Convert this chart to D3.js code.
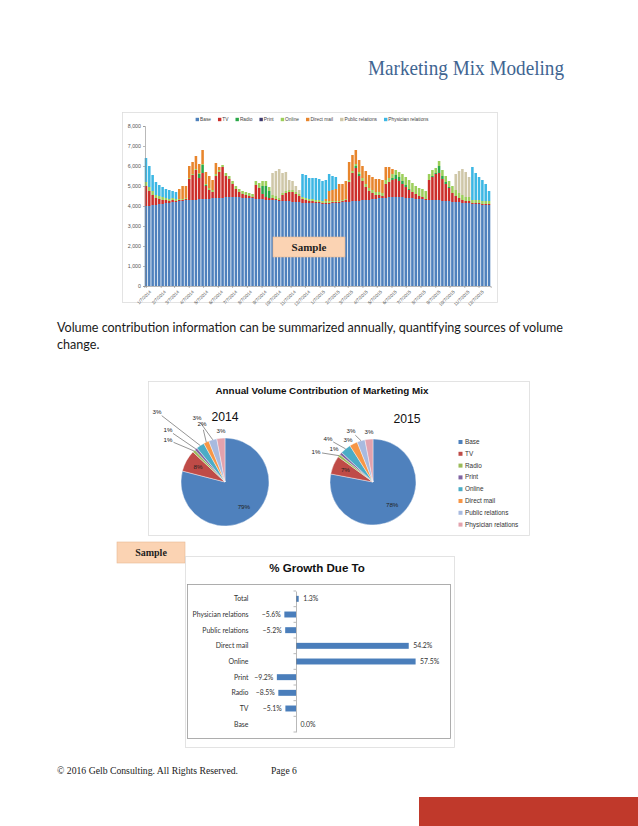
<!DOCTYPE html>
<html><head><meta charset="utf-8">
<script src="https://cdn.jsdelivr.net/npm/d3@7"></script>
<style>body{margin:0;background:#fff}svg{display:block}</style>
</head><body>
<svg id="page" width="638" height="826"></svg>
<script>
// ---------------- DATA ----------------
const seriesNames = ["Base","TV","Radio","Print","Online","Direct mail","Public relations","Physician relations"];
const firstWeek = "1/7/2014";
const base = [4000,4000,4050,4050,4100,4100,4150,4150,4200,4200,
  4250,4250,4300,4300,4300,4300,4350,4350,4350,4350,
  4400,4400,4400,4400,4450,4450,4450,4450,4450,4400,
  4400,4400,4400,4350,4350,4350,4300,4300,4300,4300,
  4250,4250,4250,4250,4200,4200,4200,4150,4150,4150,
  4150,4150,4150,4100,4100,4100,4150,4150,4150,4200,
  4200,4200,4250,4250,4250,4300,4300,4300,4350,4350,
  4400,4400,4400,4450,4450,4450,4450,4450,4400,4400,
  4400,4350,4350,4350,4300,4300,4300,4300,4300,4250,
  4250,4250,4200,4200,4200,4150,4150,4150,4100,4100,
  4100,4050,4050,4050];
const tv = [1000,750,500,350,250,200,150,100,100,50,
  50,50,50,1050,1250,1500,1050,1300,650,450,
  300,1100,1300,1550,1050,900,650,400,250,200,
  150,100,50,700,550,250,150,100,100,50,
  50,300,400,450,500,400,300,200,150,100,
  100,50,50,50,50,50,50,50,50,50,
  100,1000,1400,1650,1250,950,650,450,300,200,
  150,100,700,750,850,900,800,650,550,400,
  300,250,150,100,50,1000,1150,1300,1350,1100,
  850,650,450,300,200,150,100,100,50,50,
  50,50,50,50];
const radio = [0,0,0,0,0,0,0,0,0,0,
  0,0,0,0,0,0,200,400,50,0,
  0,0,0,0,0,0,0,0,0,0,
  0,0,0,0,0,400,550,350,0,0,
  0,0,0,0,0,0,0,0,0,0,
  0,0,0,0,0,0,0,0,0,0,
  0,0,0,100,100,0,0,0,0,0,
  0,0,0,0,100,200,200,150,100,50,
  0,0,0,0,0,0,50,50,350,150,
  100,50,0,0,0,0,0,0,0,0,
  0,0,0,0];
const print = [0,0,0,0,0,0,0,0,0,0,
  0,0,0,0,0,0,0,0,0,0,
  0,0,0,0,0,0,0,0,0,0,
  0,0,0,0,0,0,0,0,0,0,
  0,0,0,0,0,0,0,0,0,0,
  0,0,0,0,0,0,0,0,0,0,
  0,0,0,0,0,0,0,0,0,0,
  0,0,0,0,0,0,0,0,0,0,
  0,0,0,0,0,0,0,0,0,0,
  0,0,0,0,0,0,0,0,0,0,
  0,0,0,0];
const online = [200,200,200,150,150,150,100,100,100,100,
  50,50,50,50,50,50,50,50,50,100,
  100,100,100,100,150,150,150,150,150,150,
  150,150,150,200,250,250,250,200,150,150,
  100,100,100,100,100,100,100,100,100,100,
  100,100,100,100,100,100,50,50,50,50,
  50,100,100,100,100,150,150,150,150,150,
  150,150,200,200,200,250,250,350,400,450,
  450,400,400,400,400,300,300,250,250,300,
  300,300,350,300,250,250,200,200,150,150,
  150,150,150,150];
const directMail = [0,0,0,0,0,0,0,0,0,0,
  500,650,600,600,600,650,450,700,600,600,
  500,550,150,0,0,0,0,0,0,0,
  0,0,0,0,0,0,0,0,0,0,
  0,0,0,0,0,0,0,0,0,0,
  0,0,0,0,100,500,550,600,850,800,
  900,900,800,700,600,600,650,650,650,650,
  650,650,650,550,250,0,0,0,0,0,
  0,0,0,0,0,0,0,0,0,0,
  0,0,0,0,0,0,0,0,0,0,
  0,0,0,0];
const publicRelations = [0,0,0,0,0,0,0,0,0,0,
  0,0,0,0,0,0,0,0,0,0,
  0,0,0,0,0,0,0,0,0,0,
  0,0,0,0,0,0,0,0,1100,1250,
  1450,1000,950,500,450,300,200,0,0,0,
  0,0,0,0,0,0,0,0,0,0,
  0,0,0,0,0,0,0,0,0,0,
  0,0,0,0,0,0,0,0,0,0,
  0,0,0,0,0,0,0,0,0,0,
  0,0,0,800,1100,1300,1250,1000,0,0,
  0,0,0,0];
const physicianRelations = [1200,1050,800,650,550,500,450,450,350,350,
  0,0,0,0,0,0,0,0,0,0,
  0,0,0,0,0,0,0,0,0,0,
  0,0,0,0,0,0,0,0,0,0,
  0,0,0,0,0,0,0,1150,1150,1050,
  1050,1100,1050,1000,950,850,700,600,0,0,
  0,0,0,0,0,0,0,0,0,0,
  0,0,0,0,0,0,0,0,0,0,
  0,0,0,0,0,0,0,0,0,0,
  0,0,0,0,0,0,0,0,1650,1350,
  1150,1050,850,500];
const yTickValues = [0,1000,2000,3000,4000,5000,6000,7000,8000];
const xTickLabels = ["1/7/2014","2/7/2014","3/7/2014","4/7/2014","5/7/2014","6/7/2014","7/7/2014","8/7/2014","9/7/2014","10/7/2014","11/7/2014","12/7/2014",
  "1/7/2015","2/7/2015","3/7/2015","4/7/2015","5/7/2015","6/7/2015","7/7/2015","8/7/2015","9/7/2015","10/7/2015","11/7/2015","12/7/2015"];

const pieYears = ["2014","2015"];
const pie2014 = [79,8,1,1,3,2,3,3];
const pie2015 = [78,7,1,1,4,3,3,3];

const growthCategories = ["Total","Physician relations","Public relations","Direct mail","Online","Print","Radio","TV","Base"];
const growthValues = [1.3,-5.6,-5.2,54.2,57.5,-9.2,-8.5,-5.1,0.0];

// ---------------- STYLE ----------------
const stackColors = ["#4f81bd","#cc2e2a","#2aa84a","#3d3a6e","#9ccf5a","#e8852c","#cfc7a8","#3cb7e4"];
const pieColors = ["#4f81bd","#bf4b47","#9bbb59","#8064a2","#4bacc6","#f79646","#a8badf","#e3a2ad"];

const svg = d3.select("#page");

// header
svg.append("text").attr("x",368).attr("y",75)
  .attr("font-family","Liberation Serif").attr("font-size",21).attr("fill","#3f6592")
  .attr("textLength",196).attr("lengthAdjust","spacingAndGlyphs").text("Marketing Mix Modeling");

// ---------------- STACKED CHART ----------------
svg.append("rect").attr("x",122.5).attr("y",112.5).attr("width",375).attr("height",190)
  .attr("fill","none").attr("stroke","#dcdcdc").attr("stroke-width",0.8);

const parse = d3.timeParse("%m/%d/%Y");
const week0 = parse(firstWeek);
const weeks = base.map((_, i) => d3.timeDay.offset(week0, 7 * i));
const rows = weeks.map((w, i) => ({
  date: w, "Base": base[i], "TV": tv[i], "Radio": radio[i], "Print": print[i], "Online": online[i],
  "Direct mail": directMail[i], "Public relations": publicRelations[i], "Physician relations": physicianRelations[i]
}));
const x = d3.scaleTime()
  .domain([d3.timeHour.offset(weeks[0], -84), d3.timeHour.offset(weeks[weeks.length-1], 84)])
  .range([144.3, 490.7]);
const y = d3.scaleLinear().domain([0, 8000]).range([286, 126]);
const step = x(weeks[1]) - x(weeks[0]);
const bw = step * 0.76;
const stacked = d3.stack().keys(seriesNames)(rows);

const gBars = svg.append("g");
stacked.forEach((s, k) => {
  gBars.append("g").attr("fill", stackColors[k]).selectAll("rect").data(s).join("rect")
    .attr("x", d => x(d.data.date) - bw / 2).attr("width", bw)
    .attr("y", d => y(d[1])).attr("height", d => Math.max(0, y(d[0]) - y(d[1])));
});

// y axis
const yAxis = svg.append("g").attr("transform","translate(145,0)")
  .call(d3.axisLeft(y).tickValues(yTickValues).tickFormat(d3.format(",")).tickSize(2).tickPadding(2));
yAxis.select(".domain").attr("stroke","#8a8a8a").attr("stroke-width",0.6);
yAxis.selectAll(".tick line").attr("stroke","#8a8a8a").attr("stroke-width",0.6);
yAxis.selectAll("text").attr("font-family","Liberation Sans").attr("font-size",5.3).attr("fill","#555");

// x axis
const xAxis = svg.append("g").attr("transform","translate(0,286)")
  .call(d3.axisBottom(x).tickValues(xTickLabels.map(parse)).tickFormat(d3.timeFormat("%-m/%-d/%Y")).tickSize(2).tickPadding(1));
xAxis.select(".domain").attr("stroke","#8a8a8a").attr("stroke-width",0.6);
xAxis.selectAll(".tick line").attr("stroke","#8a8a8a").attr("stroke-width",0.6);
xAxis.selectAll("text").attr("font-family","Liberation Sans").attr("font-size",4.6).attr("fill","#555")
  .attr("text-anchor","end").attr("dy","0.3em").attr("transform","translate(2,3) rotate(-45)");

// legend
const leg = svg.append("g").attr("font-family","Liberation Sans").attr("font-size",4.8).attr("fill","#444");
let lx = 0;
const legItems = [];
seriesNames.forEach((n, k) => {
  const g = leg.append("g");
  g.append("rect").attr("x",0).attr("y",-3.2).attr("width",3.4).attr("height",3.4).attr("fill",stackColors[k]);
  const t = g.append("text").attr("x",4.4).attr("y",0.4).text(n);
  const w = t.node().getComputedTextLength();
  g.attr("transform",`translate(${lx},0)`);
  lx += 4.4 + w + 7;
  legItems.push(g);
});
const legW = lx - 7;
leg.attr("transform",`translate(${312 - legW/2},121)`);

// sample box 1
function sampleBox(x0, y0, w, h, fs) {
  svg.append("rect").attr("x",x0).attr("y",y0).attr("width",w).attr("height",h)
    .attr("fill","#fbd3b3").attr("stroke","#e8b894").attr("stroke-width",0.6);
  svg.append("text").attr("x",x0 + w/2).attr("y",y0 + h/2 + fs*0.35).attr("text-anchor","middle")
    .attr("font-family","Liberation Serif").attr("font-weight","bold").attr("font-size",fs).attr("fill","#1e1e1e")
    .text("Sample");
}
sampleBox(273, 237, 72, 20, 11);

// paragraph
svg.append("text").attr("x",57).attr("y",332).attr("font-family","Lato").attr("font-size",12.6).attr("fill","#1a1a1a")
  .attr("textLength",506).attr("lengthAdjust","spacing")
  .text("Volume contribution information can be summarized annually, quantifying sources of volume");
svg.append("text").attr("x",57).attr("y",349).attr("font-family","Lato").attr("font-size",12.6).attr("fill","#1a1a1a")
  .text("change.");

// ---------------- PIE CHARTS ----------------
svg.append("rect").attr("x",148.5).attr("y",381.5).attr("width",381).attr("height",154)
  .attr("fill","none").attr("stroke","#dcdcdc").attr("stroke-width",0.8);
svg.append("text").attr("x",322).attr("y",393.5).attr("text-anchor","middle")
  .attr("font-family","Liberation Sans").attr("font-weight","bold").attr("font-size",9.6).attr("fill","#111")
  .attr("textLength",213).attr("lengthAdjust","spacingAndGlyphs")
  .text("Annual Volume Contribution of Marketing Mix");

const pieLayout = [
  {cx:225, cy:482, r:44, title:[225,421], labels:[null,null,[-57,-42],[-57,-52],[-68,-70],[-23,-58],[-28,-64],[-4,-51]]},
  {cx:373, cy:482, r:43, title:[407,423], labels:[null,null,[-57,-30],[-39,-33],[-45,-43],[-25,-42],[-22,-51],[-4,-50]]}
];
const pieData = [pie2014, pie2015];
const pieGen = d3.pie().sort(null).value(d => d);
pieData.forEach((vals, p) => {
  const L = pieLayout[p];
  const g = svg.append("g").attr("transform",`translate(${L.cx},${L.cy})`);
  const arcs = pieGen(vals);
  const arc = d3.arc().innerRadius(0).outerRadius(L.r);
  g.selectAll("path").data(arcs).join("path").attr("d",arc)
    .attr("fill",(d,i)=>pieColors[i]).attr("stroke","#fff").attr("stroke-width",0.4);
  arcs.forEach((a, i) => {
    const mid = (a.startAngle + a.endAngle) / 2;
    const pos = L.labels[i];
    if (!pos) {
      const rr = L.r * 0.7;
      g.append("text").attr("x", Math.sin(mid)*rr).attr("y", -Math.cos(mid)*rr + 2.2)
        .attr("text-anchor","middle").attr("font-family","Liberation Sans").attr("font-size",6.2).attr("fill","#222")
        .text(vals[i] + "%");
    } else {
      const tx = Math.sin(mid)*L.r, ty = -Math.cos(mid)*L.r;
      const dx = tx - pos[0], dy = ty - pos[1];
      const len = Math.hypot(dx, dy);
      if (len > 12) {
        g.append("line").attr("x1", pos[0] + dx/len*6).attr("y1", pos[1] + dy/len*6)
          .attr("x2", tx).attr("y2", ty).attr("stroke","#111").attr("stroke-width",0.45);
      }
      g.append("text").attr("x", pos[0]).attr("y", pos[1] + 2.2)
        .attr("text-anchor","middle").attr("font-family","Liberation Sans").attr("font-size",6.2).attr("fill","#222")
        .text(vals[i] + "%");
    }
  });
  svg.append("text").attr("x", L.title[0]).attr("y", L.title[1]).attr("text-anchor","middle")
    .attr("font-family","Liberation Sans").attr("font-size",12.2).attr("fill","#111").text(pieYears[p]);
});

// pie legend
const pl = svg.append("g").attr("font-family","Liberation Sans").attr("font-size",6.4).attr("fill","#333");
seriesNames.forEach((n, k) => {
  const yy = 444 + k * 11.8;
  pl.append("rect").attr("x",458.5).attr("y",yy - 4).attr("width",4).attr("height",4).attr("fill",pieColors[k]);
  pl.append("text").attr("x",465).attr("y",yy).text(n);
});

// ---------------- GROWTH BAR CHART ----------------
sampleBox(117, 542, 68, 21, 10);
svg.append("rect").attr("x",185.5).attr("y",556.5).attr("width",269).attr("height",191)
  .attr("fill","none").attr("stroke","#dcdcdc").attr("stroke-width",0.8);
svg.append("rect").attr("x",187.5).attr("y",584.5).attr("width",263).attr("height",154)
  .attr("fill","none").attr("stroke","#9a9a9a").attr("stroke-width",0.8);
svg.append("text").attr("x",317).attr("y",571.5).attr("text-anchor","middle")
  .attr("font-family","Liberation Sans").attr("font-weight","bold").attr("font-size",11.6).attr("fill","#111")
  .text("% Growth Due To");

const gy = d3.scaleBand().domain(growthCategories).range([591, 732]).paddingInner(0.62).paddingOuter(0.31);
const gx = d3.scaleLinear().domain([-10, 60]).range([296 - 20.8, 296 + 124.8]);
const gb = svg.append("g");
gb.selectAll("rect").data(growthValues).join("rect")
  .attr("x", d => Math.min(gx(0), gx(d))).attr("width", d => Math.abs(gx(d) - gx(0)))
  .attr("y", (d,i) => gy(growthCategories[i])).attr("height", gy.bandwidth())
  .attr("fill","#4a7ebb");
// zero axis with ticks
const gAxis = svg.append("g").attr("transform",`translate(${gx(0)},0)`)
  .call(d3.axisLeft(gy).tickSize(0).tickFormat(""));
gAxis.select(".domain").attr("stroke","#8a8a8a").attr("stroke-width",0.6);
const stepB = gy.step();
growthCategories.forEach((c, i) => {
  const yy = gy(c) - gy.paddingInner()*stepB/2;
  svg.append("line").attr("x1",gx(0)-2.5).attr("x2",gx(0)).attr("y1",yy).attr("y2",yy).attr("stroke","#8a8a8a").attr("stroke-width",0.6);
});
svg.append("line").attr("x1",gx(0)-2.5).attr("x2",gx(0)).attr("y1",732).attr("y2",732).attr("stroke","#8a8a8a").attr("stroke-width",0.6);
// category labels
svg.append("g").attr("font-family","Lato").attr("font-size",6.9).attr("fill","#333").attr("text-anchor","end")
  .selectAll("text").data(growthCategories).join("text")
  .attr("x",248.5).attr("y", d => gy(d) + gy.bandwidth()/2 + 2.4).text(d => d);
// value labels
const fmtPct = d => d3.format(".1f")(d) + "%";
svg.append("g").attr("font-family","Lato").attr("font-size",6.9).attr("fill","#333")
  .selectAll("text").data(growthValues).join("text")
  .attr("text-anchor", d => d < 0 ? "end" : "start")
  .attr("x", d => d < 0 ? gx(d) - 3.5 : gx(d) + 4.5)
  .attr("y", (d,i) => gy(growthCategories[i]) + gy.bandwidth()/2 + 2.4)
  .text(fmtPct);

// ---------------- FOOTER ----------------
svg.append("text").attr("x",57).attr("y",774).attr("font-family","Liberation Serif").attr("font-size",9.6).attr("fill","#222")
  .attr("textLength",181).attr("lengthAdjust","spacingAndGlyphs").text("© 2016 Gelb Consulting. All Rights Reserved.");
svg.append("text").attr("x",271).attr("y",774).attr("font-family","Liberation Serif").attr("font-size",9.6).attr("fill","#222")
  .text("Page 6");
svg.append("rect").attr("x",419).attr("y",797).attr("width",219).attr("height",29).attr("fill","#c0392b");
</script>
</body></html>
